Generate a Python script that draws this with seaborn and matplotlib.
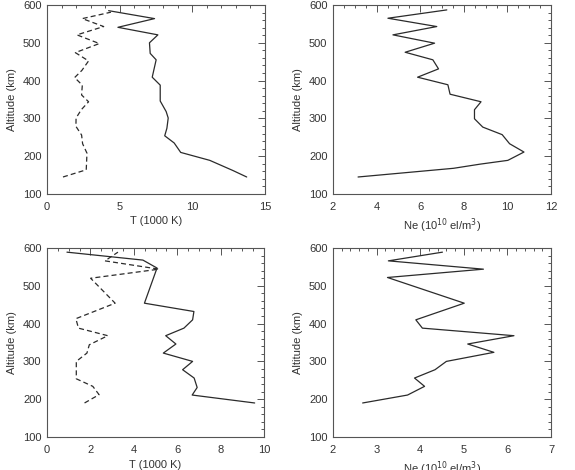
import matplotlib
matplotlib.use("Agg")
import matplotlib.pyplot as plt
import seaborn as sns
import numpy as np
from matplotlib.ticker import MultipleLocator

sns.set_style("white")
plt.rcParams['font.family'] = ['Liberation Sans', 'DejaVu Sans']

# Panel 1 (top-left): temperature profiles
p1_solid_T = [4.24, 7.40, 4.88, 7.63, 7.05, 7.10, 7.51, 7.24, 7.79, 7.79, 8.2, 8.34, 8.25, 8.1, 8.75, 9.2, 11.2, 12.8, 13.74]
p1_solid_h = [585, 564, 541, 521, 500, 472, 455, 409, 388, 346, 318, 301, 274, 254, 235, 210, 189, 162, 145]
p1_dash_T = [1.10, 2.70, 2.75, 2.45, 2.38, 1.99, 2.0, 2.36, 2.86, 2.38, 2.43, 1.90, 2.40, 2.86, 1.95, 3.6, 2.06, 3.9, 2.43, 4.4]
p1_dash_h = [145, 164, 208, 233, 256, 279, 301, 323, 344, 362, 388, 408, 427, 452, 474, 498, 521, 543, 564, 581]

# Panel 2 (top-right): electron density
p2_Ne = [7.22, 4.52, 6.76, 4.75, 6.66, 5.31, 6.58, 6.84, 5.88, 7.27, 7.37, 8.79, 8.49, 8.49, 8.87, 9.76, 10.1, 10.76, 10.02, 8.75, 7.53, 3.15]
p2_h = [587, 565, 543, 521, 499, 475, 455, 431, 409, 389, 364, 344, 323, 299, 277, 257, 233, 211, 189, 179, 168, 145]

# Panel 3 (bottom-left): temperature profiles
p3_solid_T = [0.92, 4.42, 5.07, 4.49, 6.77, 6.71, 6.31, 5.47, 5.94, 5.36, 6.71, 6.25, 6.78, 6.92, 6.69, 9.57]
p3_solid_h = [589, 568, 547, 454, 432, 410, 388, 368, 346, 322, 300, 278, 256, 231, 211, 190]
p3_dash_T = [1.73, 2.40, 2.11, 1.35, 1.35, 1.84, 1.95, 2.80, 1.45, 1.33, 3.14, 2.01, 5.16, 2.67, 3.27]
p3_dash_h = [190, 212, 234, 254, 300, 322, 344, 368, 388, 413, 454, 520, 544, 566, 589]

# Panel 4 (bottom-right): electron density
p4_Ne = [4.51, 3.27, 5.45, 3.25, 5.01, 3.90, 4.05, 6.15, 5.09, 5.69, 4.60, 4.34, 3.87, 4.10, 3.71, 2.68]
p4_h = [589, 566, 544, 522, 454, 410, 388, 368, 346, 324, 300, 278, 256, 234, 211, 190]

line_col = "#2b2b2b"
text_col = "#333333"
spine_col = "#555555"

fig = plt.figure(figsize=(5.75, 4.7), dpi=100)
W, H = 575, 470

def add_ax(l, r, t, b):
    return fig.add_axes([l / W, 1 - b / H, (r - l) / W, (b - t) / H])

ax1 = add_ax(47, 265, 5, 194)
ax2 = add_ax(333, 551, 5, 194)
ax3 = add_ax(47, 264, 248, 437)
ax4 = add_ax(333, 551, 248, 437)

lw = 0.9
sns.lineplot(x=p1_solid_T, y=p1_solid_h, sort=False, estimator=None, ax=ax1, color=line_col, lw=lw)
sns.lineplot(x=p1_dash_T, y=p1_dash_h, sort=False, estimator=None, ax=ax1, color=line_col, lw=lw, linestyle=(0, (4, 2.5)))
sns.lineplot(x=p2_Ne, y=p2_h, sort=False, estimator=None, ax=ax2, color=line_col, lw=lw)
sns.lineplot(x=p3_solid_T, y=p3_solid_h, sort=False, estimator=None, ax=ax3, color=line_col, lw=lw)
sns.lineplot(x=p3_dash_T, y=p3_dash_h, sort=False, estimator=None, ax=ax3, color=line_col, lw=lw, linestyle=(0, (4, 2.5)))
sns.lineplot(x=p4_Ne, y=p4_h, sort=False, estimator=None, ax=ax4, color=line_col, lw=lw)

specs = [
    (ax1, (0, 15), 5, 1, "T (1000 K)"),
    (ax2, (2, 12), 2, 0.5, "Ne (10$^{10}$ el/m$^3$)"),
    (ax3, (0, 10), 2, 0.5, "T (1000 K)"),
    (ax4, (2, 7), 1, 0.2, "Ne (10$^{10}$ el/m$^3$)"),
]
for ax, xl, maj, mnr, lab in specs:
    ax.set_xlim(*xl)
    ax.set_ylim(100, 600)
    ax.xaxis.set_major_locator(MultipleLocator(maj))
    ax.xaxis.set_minor_locator(MultipleLocator(mnr))
    ax.yaxis.set_major_locator(MultipleLocator(100))
    ax.yaxis.set_minor_locator(MultipleLocator(20))
    ax.tick_params(which='both', direction='in', top=True, right=True, color=spine_col,
                   labelsize=8, labelcolor=text_col, width=0.7)
    ax.tick_params(which='major', length=5, pad=4)
    ax.tick_params(axis='x', which='major', pad=6)
    ax.tick_params(which='minor', length=2.5)
    for s in ax.spines.values():
        s.set_color(spine_col)
        s.set_linewidth(0.8)
    ax.set_xlabel(lab, fontsize=8, color=text_col, labelpad=3)
    ax.set_ylabel("Altitude (km)", fontsize=8, color=text_col, labelpad=4)

fig.savefig("out.png", dpi=100)
